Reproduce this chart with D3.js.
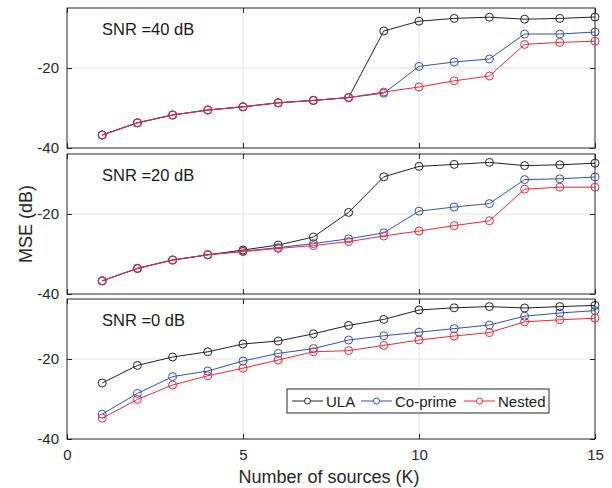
<!DOCTYPE html>
<html>
<head>
<meta charset="utf-8">
<script src="https://cdn.jsdelivr.net/npm/d3@7"></script>
<style>
  body { margin: 0; background: #fff; }
  svg { font-family: "Liberation Sans", Arial, sans-serif; }
</style>
</head>
<body>
<div id="chart"></div>
<script>
// number of sources
var sources = [1,2,3,4,5,6,7,8,9,10,11,12,13,14,15];
var panelTitles = ["SNR =40 dB", "SNR =20 dB", "SNR =0 dB"];
var seriesNames = ["ULA", "Co-prime", "Nested"];
var xTicks = [0, 5, 10, 15];
var yTicks = [-40, -20];

// MSE (dB)
var ula40     = [-36.75,-33.7,-31.75,-30.5,-29.7,-28.7,-28.1,-27.4,-10.75,-8.3,-7.6,-7.3,-7.8,-7.6,-7.25];
var coprime40 = [-36.75,-33.7,-31.75,-30.5,-29.7,-28.7,-28.1,-27.4,-26.3,-19.6,-18.5,-17.75,-11.5,-11.5,-11.0];
var nested40  = [-36.75,-33.7,-31.75,-30.5,-29.7,-28.7,-28.1,-27.4,-26.0,-24.75,-23.2,-22.0,-14.1,-13.6,-13.3];

var ula20     = [-36.7,-33.6,-31.5,-30.2,-29.0,-27.75,-25.75,-19.6,-10.7,-8.1,-7.6,-7.1,-7.9,-7.7,-7.3];
var coprime20 = [-36.7,-33.6,-31.5,-30.2,-29.3,-28.4,-27.4,-26.2,-24.7,-19.3,-18.25,-17.4,-11.4,-11.2,-10.75];
var nested20  = [-36.7,-33.6,-31.5,-30.2,-29.4,-28.6,-27.9,-26.9,-25.5,-24.25,-22.9,-21.7,-13.8,-13.3,-13.3];

var ula0      = [-26.0,-21.6,-19.5,-18.2,-16.25,-15.5,-13.7,-11.6,-10.1,-7.75,-7.2,-6.9,-7.25,-6.9,-6.6];
var coprime0  = [-33.8,-28.6,-24.4,-23.0,-20.5,-18.6,-17.4,-15.25,-14.2,-13.3,-12.4,-11.5,-9.3,-8.5,-7.9];
var nested0   = [-34.8,-30.1,-26.5,-24.2,-22.3,-20.25,-18.2,-17.9,-16.6,-15.25,-14.25,-13.4,-10.7,-10.2,-9.8];

var panels = [
  [ula40, coprime40, nested40],
  [ula20, coprime20, nested20],
  [ula0, coprime0, nested0]
];
var colors = ["#222222", "#3050b8", "#f52530"];

var W = 612, H = 488;
var left = 67, right = 595;
var panelTops = [8, 154, 299];
var panelH = 140;
var axisCol = "#262626";

var svg = d3.select("#chart").append("svg").attr("width", W).attr("height", H);

var x = d3.scaleLinear().domain([0, 15]).range([left, right]);
var fmt = function(d) { return String(d); };

panels.forEach(function(series, p) {
  var top = panelTops[p];
  var y = d3.scaleLinear().domain([-40, -5]).range([top + panelH, top]);
  var g = svg.append("g");

  // grid
  g.selectAll(".vg").data([5, 10]).enter().append("line")
    .attr("x1", function(d){ return x(d); }).attr("x2", function(d){ return x(d); })
    .attr("y1", top).attr("y2", top + panelH)
    .attr("stroke", "#e3e3e3").attr("stroke-width", 1);
  g.append("line")
    .attr("x1", left).attr("x2", right)
    .attr("y1", y(-20)).attr("y2", y(-20))
    .attr("stroke", "#e3e3e3").attr("stroke-width", 1);

  // axes
  var yAxis = d3.axisLeft(y).tickValues(yTicks).tickFormat(fmt).tickSizeInner(-5).tickSizeOuter(0).tickPadding(8);
  var ya = g.append("g").attr("transform", "translate(" + left + ",0)").call(yAxis);
  ya.select(".domain").remove();
  ya.selectAll("line").attr("stroke", axisCol);
  ya.selectAll("text").attr("fill", axisCol).style("font-size", "15px");

  var yRight = d3.axisRight(y).tickValues(yTicks).tickSizeInner(-5).tickSizeOuter(0).tickFormat("");
  var yr = g.append("g").attr("transform", "translate(" + right + ",0)").call(yRight);
  yr.select(".domain").remove();
  yr.selectAll("line").attr("stroke", axisCol);

  var xBottom = d3.axisBottom(x).tickValues(xTicks).tickFormat(fmt).tickSizeInner(-5).tickSizeOuter(0).tickPadding(10);
  if (p < 2) xBottom.tickFormat("");
  var xb = g.append("g").attr("transform", "translate(0," + (top + panelH) + ")").call(xBottom);
  xb.select(".domain").remove();
  xb.selectAll("line").attr("stroke", axisCol);
  xb.selectAll("text").attr("fill", axisCol).style("font-size", "15px");

  var xTop = d3.axisTop(x).tickValues(xTicks).tickSizeInner(-5).tickSizeOuter(0).tickFormat("");
  var xt = g.append("g").attr("transform", "translate(0," + top + ")").call(xTop);
  xt.select(".domain").remove();
  xt.selectAll("line").attr("stroke", axisCol);

  g.append("rect")
    .attr("x", left).attr("y", top)
    .attr("width", right - left).attr("height", panelH)
    .attr("fill", "none").attr("stroke", axisCol).attr("stroke-width", 1);

  // lines, nested drawn last so it sits on top
  var line = d3.line().x(function(d, i){ return x(sources[i]); }).y(function(d){ return y(d); });
  [0, 1, 2].forEach(function(s) {
    g.append("path").datum(series[s])
      .attr("d", line).attr("fill", "none")
      .attr("stroke", colors[s]).attr("stroke-width", 1);
    g.selectAll(".m" + s).data(series[s]).enter().append("circle")
      .attr("cx", function(d, i){ return x(sources[i]); })
      .attr("cy", function(d){ return y(d); })
      .attr("r", 4).attr("fill", "none")
      .attr("stroke", colors[s]).attr("stroke-width", 1);
  });

  g.append("text")
    .attr("x", 102).attr("y", top + 27)
    .attr("fill", "#1a1a1a").style("font-size", "16.5px")
    .text(panelTitles[p]);
});

// axis labels
svg.append("text")
  .attr("transform", "translate(32,224) rotate(-90)")
  .attr("text-anchor", "middle").attr("fill", axisCol).style("font-size", "18px")
  .text("MSE (dB)");
svg.append("text")
  .attr("x", 329).attr("y", 483)
  .attr("text-anchor", "middle").attr("fill", axisCol).style("font-size", "18px")
  .text("Number of sources (K)");

// legend
var lg = svg.append("g");
lg.append("rect")
  .attr("x", 287).attr("y", 389).attr("width", 262).attr("height", 24)
  .attr("fill", "#fff").attr("stroke", axisCol).attr("stroke-width", 1);
var legX = [292, 361, 464];
seriesNames.forEach(function(name, s) {
  var lx = legX[s];
  lg.append("line")
    .attr("x1", lx).attr("x2", lx + 31).attr("y1", 401).attr("y2", 401)
    .attr("stroke", colors[s]).attr("stroke-width", 1);
  lg.append("circle")
    .attr("cx", lx + 15.5).attr("cy", 401).attr("r", 3)
    .attr("fill", "#fff").attr("stroke", colors[s]).attr("stroke-width", 1);
  lg.append("text")
    .attr("x", lx + 34).attr("y", 406.5)
    .attr("fill", "#1a1a1a").style("font-size", "15px")
    .text(name);
});
</script>
</body>
</html>
